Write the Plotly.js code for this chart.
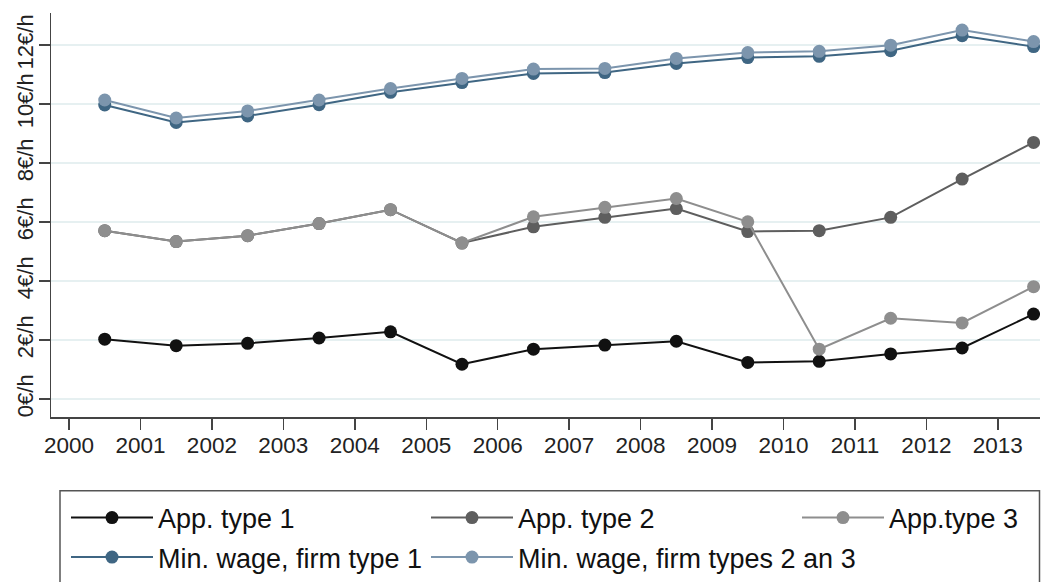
<!DOCTYPE html>
<html>
<head>
<meta charset="utf-8">
<script src="https://cdn.plot.ly/plotly-3.0.1.min.js"></script>
<style>html,body{margin:0;padding:0;background:#fff;}#chart{width:1041px;height:582px;}</style>
</head>
<body>
<div id="chart"></div>
<script>
// Data
var years = [2000, 2001, 2002, 2003, 2004, 2005, 2006, 2007, 2008, 2009, 2010, 2011, 2012, 2013];
var appType1 = [2.03, 1.81, 1.89, 2.07, 2.28, 1.18, 1.69, 1.83, 1.96, 1.24, 1.28, 1.53, 1.73, 2.88];
var appType2 = [5.71, 5.34, 5.54, 5.95, 6.42, 5.29, 5.84, 6.16, 6.46, 5.68, 5.71, 6.16, 7.46, 8.70];
var appType3 = [5.71, 5.34, 5.54, 5.95, 6.42, 5.29, 6.18, 6.50, 6.80, 6.01, 1.69, 2.74, 2.58, 3.81];
var minWageFirm1 = [9.97, 9.38, 9.60, 9.98, 10.40, 10.73, 11.04, 11.07, 11.38, 11.58, 11.62, 11.81, 12.32, 11.95];
var minWageFirm23 = [10.14, 9.53, 9.77, 10.14, 10.53, 10.87, 11.19, 11.21, 11.55, 11.75, 11.79, 12.00, 12.51, 12.12];
var seriesNames = ['App. type 1', 'App. type 2', 'App.type 3', 'Min. wage, firm type 1', 'Min. wage, firm types 2 an 3'];
var yTickValues = [0, 2, 4, 6, 8, 10, 12];
var yTickLabels = ['0€/h', '2€/h', '4€/h', '6€/h', '8€/h', '10€/h', '12€/h'];

// observations are plotted at mid-year
var xMid = years.map(function (y) { return y + 0.5; });

var colors = ['#111111', '#5e5e5e', '#8e8e8e', '#3f6683', '#7c95ad'];
var seriesValues = [appType1, appType2, appType3, minWageFirm1, minWageFirm23];
var legendIds = ['legend', 'legend2', 'legend3', 'legend4', 'legend5'];

var traces = seriesValues.map(function (vals, i) {
  return {
    x: xMid, y: vals, name: seriesNames[i], type: 'scatter', mode: 'lines+markers',
    line: {color: colors[i], width: 2},
    marker: {color: colors[i], size: 13},
    legend: legendIds[i], hoverinfo: 'skip'
  };
});

var L = 51, R = 1, T = 13, B = 164;
var W = 1041, H = 582;
var pw = W - L - R, ph = H - T - B;
function px2x(px) { return (px - L) / pw; }
function py2y(py) { return (H - B - py) / ph; }

var legFont = {family: 'Liberation Sans, Arial, sans-serif', size: 27, color: '#111111'};
function legendAt(px, py) {
  return {x: px2x(px), y: py2y(py), xanchor: 'left', yanchor: 'middle', orientation: 'v',
    bgcolor: 'rgba(0,0,0,0)', borderwidth: 0, font: legFont, itemwidth: 82, itemsizing: 'trace'};
}

var layout = {
  width: W, height: H,
  margin: {l: L, r: R, t: T, b: B, pad: 0},
  paper_bgcolor: '#ffffff', plot_bgcolor: '#ffffff',
  font: {family: 'Liberation Sans, Arial, sans-serif', color: '#222222'},
  showlegend: true,
  xaxis: {
    range: [1999.748, 2013.59], tickmode: 'array', tickvals: years, ticktext: years.map(String),
    showgrid: false, zeroline: false, showline: true, linecolor: '#444444', linewidth: 1.5,
    ticks: 'outside', ticklen: 11, tickwidth: 1.5, tickcolor: '#444444',
    tickfont: {size: 22.5, color: '#222222'}, ticklabelstandoff: -4
  },
  yaxis: {
    range: [-0.609, 13.09], tickmode: 'array', tickvals: yTickValues, ticktext: yTickLabels,
    tickangle: -90, showgrid: true, gridcolor: '#e6f0f1', gridwidth: 2, zeroline: false,
    showline: true, linecolor: '#444444', linewidth: 1.5,
    ticks: 'outside', ticklen: 11, tickwidth: 1.5, tickcolor: '#444444',
    tickfont: {size: 22, color: '#222222'}, ticklabelstandoff: -3
  },
  legend: legendAt(66, 518),
  legend2: legendAt(426, 518),
  legend3: legendAt(797, 518),
  legend4: legendAt(66, 558),
  legend5: legendAt(426, 558),
  shapes: [{
    type: 'rect', xref: 'paper', yref: 'paper',
    x0: px2x(60), x1: px2x(1039.5), y0: py2y(492), y1: py2y(600),
    line: {color: '#555555', width: 1.5}, fillcolor: 'rgba(0,0,0,0)', layer: 'above'
  }]
};

Plotly.newPlot('chart', traces, layout, {displayModeBar: false, staticPlot: true});
</script>
</body>
</html>
